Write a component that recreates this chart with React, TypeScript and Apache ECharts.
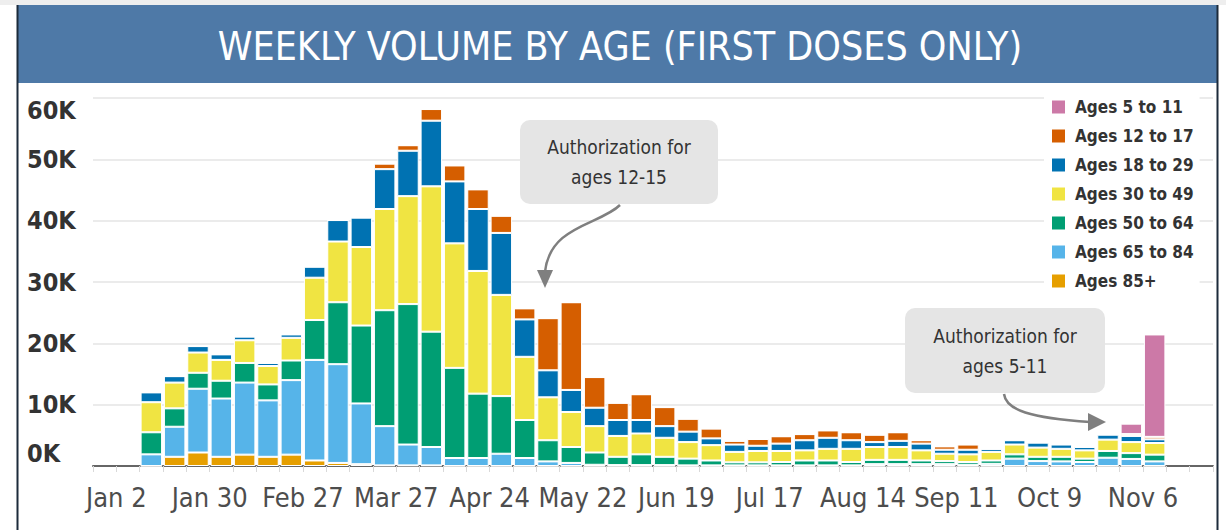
import React, { useEffect, useRef } from "react";
import * as echarts from "echarts";

// Week boundaries (axis ticks); a bar occupies the slot that starts at its date.
const boundaryDates = [
  "Dec 26", "Jan 2", "Jan 9", "Jan 16", "Jan 23", "Jan 30", "Feb 6", "Feb 13", "Feb 20", "Feb 27",
  "Mar 6", "Mar 13", "Mar 20", "Mar 27", "Apr 3", "Apr 10", "Apr 17", "Apr 24", "May 1", "May 8",
  "May 15", "May 22", "May 29", "Jun 5", "Jun 12", "Jun 19", "Jun 26", "Jul 3", "Jul 10", "Jul 17",
  "Jul 24", "Jul 31", "Aug 7", "Aug 14", "Aug 21", "Aug 28", "Sep 4", "Sep 11", "Sep 18", "Sep 25",
  "Oct 2", "Oct 9", "Oct 16", "Oct 23", "Oct 30", "Nov 6", "Nov 13", "Nov 20", "Nov 27",
];
const tickLabels = ["Jan 2", "Jan 30", "Feb 27", "Mar 27", "Apr 24", "May 22", "Jun 19", "Jul 17", "Aug 14", "Sep 11", "Oct 9", "Nov 6"];
const firstWeek = "Jan 9";

// Weekly first doses (thousands), weeks Jan 9 .. Nov 6
const ages85 = [0, 1.5, 2.2, 1.5, 1.85, 1.5, 1.85, 0.9, 0.5, 0.3, 0.1, 0.1, 0.1, 0, 0, 0, 0, 0, 0, 0, 0, 0, 0, 0, 0, 0, 0, 0, 0, 0, 0, 0, 0, 0, 0, 0, 0, 0, 0, 0, 0, 0, 0, 0];
const ages65 = [1.9, 4.9, 10.4, 9.5, 11.75, 9.2, 12.15, 16.4, 16.1, 9.9, 6.4, 3.4, 3.0, 1.3, 1.3, 2.0, 1.3, 0.75, 0.5, 0.2, 0.15, 0.15, 0.15, 0.1, 0.1, 0.1, 0.1, 0.1, 0.1, 0.1, 0.1, 0.3, 0.3, 0.3, 0.3, 0.2, 0.35, 1.2, 0.8, 0.75, 0.65, 1.35, 1.15, 0.75];
const ages50 = [3.6, 3.0, 2.6, 2.9, 3.2, 2.6, 3.2, 6.5, 10.1, 12.7, 18.9, 22.9, 18.8, 14.7, 10.5, 9.4, 6.2, 3.45, 2.6, 2.0, 1.35, 1.75, 1.35, 1.1, 0.8, 0.5, 0.5, 0.55, 0.8, 0.8, 0.55, 0.7, 0.7, 0.6, 0.5, 0.45, 0.55, 0.7, 0.7, 0.75, 0.55, 1.1, 0.95, 1.1];
const ages30 = [4.9, 4.2, 3.3, 3.4, 3.7, 3.0, 3.7, 6.9, 9.9, 12.8, 16.5, 17.6, 23.7, 20.3, 20.0, 16.5, 10.3, 7.0, 5.7, 4.3, 3.4, 3.4, 3.1, 2.7, 2.5, 1.7, 1.85, 1.8, 1.65, 1.9, 2.15, 2.1, 2.1, 1.65, 1.2, 1.25, 1.4, 1.6, 1.5, 1.3, 1.35, 1.85, 1.8, 1.9];
const ages18 = [1.6, 1.05, 1.05, 0.9, 0.6, 0.5, 0.55, 1.8, 3.5, 4.8, 6.5, 7.4, 10.7, 10.1, 10.1, 10.1, 6.1, 4.4, 3.6, 3.0, 2.6, 2.2, 1.9, 1.7, 1.1, 1.2, 0.85, 1.2, 1.65, 1.8, 1.4, 0.8, 1.0, 1.1, 0.65, 0.75, 0.5, 0.7, 0.8, 0.7, 0.55, 0.8, 1.0, 0.6];
const ages12 = [0, 0, 0, 0, 0, 0, 0, 0, 0, 0, 0.9, 0.9, 1.9, 2.6, 3.2, 2.8, 1.8, 8.5, 14.3, 5.0, 2.8, 4.2, 3.1, 2.1, 1.6, 0.6, 1.1, 1.2, 1.0, 1.2, 1.3, 1.2, 1.4, 0.55, 0.55, 0.85, 0, 0.1, 0.1, 0.1, 0.1, 0.1, 0.3, 0.4];
const ages5 = [0, 0, 0, 0, 0, 0, 0, 0, 0, 0, 0, 0, 0, 0, 0, 0, 0, 0, 0, 0, 0, 0, 0, 0, 0, 0, 0, 0, 0, 0, 0, 0, 0, 0, 0, 0, 0, 0, 0, 0, 0, 0, 1.7, 16.7];

const seriesDefs = [
  { name: "Ages 85+", values: ages85, color: "#e69f00" },
  { name: "Ages 65 to 84", values: ages65, color: "#56b4e9" },
  { name: "Ages 50 to 64", values: ages50, color: "#009e73" },
  { name: "Ages 30 to 49", values: ages30, color: "#f0e442" },
  { name: "Ages 18 to 29", values: ages18, color: "#0072b2" },
  { name: "Ages 12 to 17", values: ages12, color: "#d55e00" },
  { name: "Ages 5 to 11", values: ages5, color: "#cc79a7" },
];

const TITLE = "WEEKLY VOLUME BY AGE (FIRST DOSES ONLY)";
const NOTE_1 = "Authorization for\nages 12-15";
const NOTE_2 = "Authorization for\nages 5-11";

const FONT = "'DejaVu Sans Condensed', 'DejaVu Sans', sans-serif";

export default function App() {
  const ref = useRef<HTMLDivElement>(null);
  useEffect(() => {
    if (!ref.current) return;
    const chart = echarts.init(ref.current, null, { renderer: "svg" });
    const slots = boundaryDates.slice(0, boundaryDates.length - 1);
    const offset = slots.indexOf(firstWeek);
    const toSlots = (vals: number[]) =>
      slots.map((_, i) => {
        const j = i - offset;
        return j >= 0 && j < vals.length ? Math.round(vals[j] * 1000) : null;
      });

    const option: any = {
      animation: false,
      backgroundColor: "#ffffff",
      grid: { left: 93, right: 13, top: 98, bottom: 64, containLabel: false },
      legend: {
        orient: "vertical",
        left: 1044,
        top: 94,
        padding: [4, 6, 4, 6],
        backgroundColor: "#ffffff",
        icon: "rect",
        itemWidth: 15,
        itemHeight: 15,
        itemGap: 11,
        data: seriesDefs.map((s) => s.name).reverse(),
        textStyle: { fontFamily: FONT, fontSize: 17, fontWeight: "bold", color: "#333", lineHeight: 18, padding: [0, 0, 0, 4] },
      },
      xAxis: [
        {
          type: "category",
          data: slots,
          axisLine: { show: false },
          axisTick: { show: false },
          axisLabel: { show: false },
          splitLine: { show: false },
        },
        {
          type: "category",
          data: boundaryDates,
          boundaryGap: false,
          position: "bottom",
          axisLine: { show: true, lineStyle: { color: "#666", width: 2 } },
          axisTick: { show: true, interval: 0, length: 6, lineStyle: { color: "#d9d9d9", width: 1 } },
          axisLabel: {
            interval: (i: number, v: string) => tickLabels.indexOf(v) >= 0,
            fontFamily: FONT,
            fontSize: 27,
            color: "#4d4d4d",
            margin: 18,
          },
          splitLine: { show: false },
        },
      ],
      yAxis: {
        type: "value",
        min: 0,
        max: 60000,
        interval: 10000,
        axisLine: { show: false },
        axisTick: { show: false },
        splitLine: { lineStyle: { color: "#ebebeb", width: 2 } },
        axisLabel: {
          formatter: (v: number) => v / 1000 + "K",
          align: "left",
          margin: 66,
          fontFamily: FONT,
          fontSize: 25,
          fontWeight: "bold",
          color: "#333",
          verticalAlignMinLabel: "bottom",
          verticalAlignMaxLabel: "top",
        },
      },
      series: seriesDefs.map((s) => ({
        name: s.name,
        type: "bar",
        stack: "total",
        xAxisIndex: 0,
        barCategoryGap: "8%",
        data: toSlots(s.values),
        itemStyle: { color: s.color, borderColor: "#ffffff", borderWidth: 1 },
      })),
      graphic: [
        { type: "rect", z: 50, shape: { x: 0, y: 0, width: 1226, height: 5 }, style: { fill: "#eeeeee" } },
        { type: "rect", z: 50, shape: { x: 18, y: 5, width: 1199, height: 78 }, style: { fill: "#4e79a7" } },
        { type: "line", z: 51, shape: { x1: 17.5, y1: 5, x2: 17.5, y2: 530 }, style: { stroke: "#1c2b3b", lineWidth: 2 } },
        { type: "line", z: 51, shape: { x1: 1217.5, y1: 5, x2: 1217.5, y2: 530 }, style: { stroke: "#1c2b3b", lineWidth: 2 } },
        {
          type: "text", z: 52, x: 620, y: 46,
          style: { text: TITLE, fill: "#ffffff", fontFamily: FONT, fontSize: 39, fontWeight: 500, align: "center", verticalAlign: "middle" },
        },
        // callout 1
        { type: "rect", z: 60, shape: { x: 520, y: 120, width: 198, height: 84, r: 10 }, style: { fill: "#e5e5e5" } },
        {
          type: "text", z: 61, x: 619, y: 162,
          style: { text: NOTE_1, fill: "#333", fontFamily: FONT, fontSize: 19, lineHeight: 30, align: "center", verticalAlign: "middle" },
        },
        {
          type: "bezierCurve", z: 61,
          shape: { x1: 620, y1: 205, cpx1: 600, cpy1: 225, cpx2: 550, cpy2: 225, x2: 545, y2: 272 },
          style: { stroke: "#7f7f7f", lineWidth: 2.5, fill: null },
        },
        { type: "polygon", z: 61, shape: { points: [[537, 270], [553, 270], [545, 288]] }, style: { fill: "#7f7f7f" } },
        // callout 2
        { type: "rect", z: 60, shape: { x: 905, y: 308, width: 200, height: 85, r: 10 }, style: { fill: "#e5e5e5" } },
        {
          type: "text", z: 61, x: 1005, y: 351,
          style: { text: NOTE_2, fill: "#333", fontFamily: FONT, fontSize: 19, lineHeight: 30, align: "center", verticalAlign: "middle" },
        },
        {
          type: "bezierCurve", z: 61,
          shape: { x1: 1004, y1: 394, cpx1: 1006, cpy1: 410, cpx2: 1030, cpy2: 418, x2: 1090, y2: 422 },
          style: { stroke: "#7f7f7f", lineWidth: 2.5, fill: null },
        },
        { type: "polygon", z: 61, shape: { points: [[1088, 413], [1088, 431], [1106, 422]] }, style: { fill: "#7f7f7f" } },
      ],
    };
    chart.setOption(option);
    return () => chart.dispose();
  }, []);
  return <div ref={ref} style={{ position: "absolute", left: 0, top: 0, width: 1226, height: 530 }} />;
}
